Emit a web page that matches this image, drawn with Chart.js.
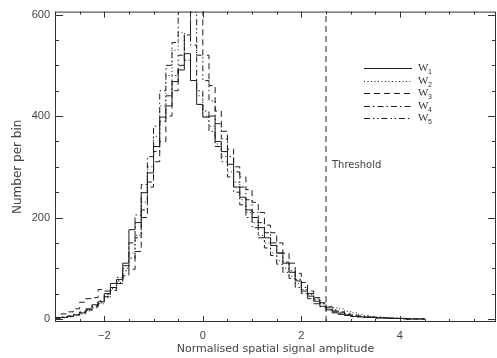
<!DOCTYPE html>
<html>
<head>
<meta charset="utf-8">
<script src="https://cdn.jsdelivr.net/npm/chart.js@4.4.0/dist/chart.umd.min.js"></script>
<style>
  body { margin: 0; background: #fff; }
</style>
</head>
<body>
<canvas id="histChart" width="497" height="358"></canvas>
<script>
// histogram bins: left edge of the first bin and the bin width
const binStart = -3.0;
const binWidth = 0.125;

const seriesIds = ['1', '2', '3', '4', '5'];

const w1 = [1, 2, 3, 5, 8, 12, 18, 28, 34, 50, 70, 78, 110, 176, 190, 249, 288, 340, 398, 420,
            468, 491, 523, 470, 423, 398, 400, 350, 330, 305, 260, 240, 215, 200, 180, 160, 145, 130, 110, 92,
            75, 55, 45, 35, 25, 18, 12, 9, 7, 5, 4, 3, 3, 2, 2, 1, 1, 1, 0, 0];
const w2 = [0, 1, 3, 4, 7, 10, 16, 22, 30, 42, 60, 72, 100, 130, 165, 230, 300, 360, 420, 480,
            530, 565, 510, 470, 440, 400, 380, 345, 320, 290, 270, 235, 210, 190, 165, 150, 130, 115, 100, 85,
            70, 58, 48, 40, 30, 25, 22, 20, 15, 12, 9, 7, 5, 4, 3, 2, 2, 1, 1, 0];
const w3 = [1, 3, 10, 14, 20, 33, 40, 42, 58, 55, 62, 70, 85, 98, 133, 200, 260, 310, 350, 400,
            450, 500, 560, 620, 640, 520, 460, 410, 370, 335, 300, 280, 255, 230, 210, 185, 170, 150, 130, 110,
            90, 72, 55, 42, 32, 22, 16, 12, 9, 7, 5, 4, 3, 2, 2, 1, 1, 0, 0, 0];
const w4 = [0, 2, 4, 6, 9, 14, 20, 26, 36, 48, 62, 82, 105, 150, 205, 265, 320, 380, 450, 500,
            545, 610, 625, 540, 450, 410, 370, 340, 310, 280, 250, 225, 200, 180, 160, 140, 125, 108, 92, 80,
            62, 50, 40, 30, 24, 18, 14, 10, 8, 6, 5, 4, 3, 2, 2, 1, 1, 1, 0, 0];
const w5 = [1, 2, 3, 5, 8, 12, 17, 24, 32, 44, 56, 75, 95, 120, 160, 215, 270, 330, 390, 440,
            480, 520, 560, 605, 520, 470, 430, 385, 355, 320, 290, 260, 235, 210, 190, 170, 150, 130, 112, 95,
            78, 62, 50, 38, 30, 24, 18, 14, 11, 8, 6, 5, 4, 3, 2, 2, 1, 1, 0, 0];

const thresholdX = 2.5;
const xTickValues = [-2, 0, 2, 4];
const yTickValues = [0, 200, 400, 600];
const xMinorStep = 0.5;
const yMinorStep = 50;

const ink = '#1e1e1e';
const textColor = '#444';
const dashes = [[], [1, 2.5], [6, 4], [6, 3, 1.5, 3], [6, 3, 1.5, 2.5, 1.5, 3]];

function toSteps(vals) {
  const pts = vals.map((v, i) => ({ x: binStart + i * binWidth, y: v }));
  pts.push({ x: binStart + vals.length * binWidth, y: vals[vals.length - 1] });
  return pts;
}

const datasets = [w1, w2, w3, w4, w5].map((vals, i) => ({
  label: 'W' + seriesIds[i],
  data: toSteps(vals),
  stepped: 'after',
  borderColor: ink,
  borderWidth: 1,
  borderDash: dashes[i],
  pointRadius: 0,
  fill: false
}));

datasets.push({
  label: 'Threshold',
  data: [{ x: thresholdX, y: -6 }, { x: thresholdX, y: 606 }],
  borderColor: ink,
  borderWidth: 1,
  borderDash: [6, 4],
  pointRadius: 0,
  fill: false
});

// IDL-like frame with inward ticks, legend and threshold label
const framePlugin = {
  id: 'frame',
  afterDatasetsDraw(chart) {
    const { ctx, chartArea: a, scales: { x, y } } = chart;
    ctx.save();
    ctx.strokeStyle = '#333';
    ctx.lineWidth = 1;
    ctx.setLineDash([]);
    ctx.strokeRect(a.left + 0.5, a.top + 0.5, a.right - a.left - 1, a.bottom - a.top - 1);

    ctx.beginPath();
    for (let v = Math.ceil(x.min / xMinorStep) * xMinorStep; v <= x.max; v += xMinorStep) {
      const px = Math.round(x.getPixelForValue(v)) + 0.5;
      const len = xTickValues.includes(v) ? 6 : 3;
      ctx.moveTo(px, a.bottom); ctx.lineTo(px, a.bottom - len);
      ctx.moveTo(px, a.top); ctx.lineTo(px, a.top + len);
    }
    for (let v = 0; v <= y.max; v += yMinorStep) {
      const py = Math.round(y.getPixelForValue(v)) + 0.5;
      const len = yTickValues.includes(v) ? 8 : 4;
      ctx.moveTo(a.left, py); ctx.lineTo(a.left + len, py);
      ctx.moveTo(a.right, py); ctx.lineTo(a.right - len, py);
    }
    ctx.stroke();

    // threshold label
    ctx.fillStyle = textColor;
    ctx.font = '10px "DejaVu Sans", sans-serif';
    ctx.textBaseline = 'middle';
    ctx.fillText('Threshold', x.getPixelForValue(thresholdX) + 6, y.getPixelForValue(303));

    // legend
    const lx0 = 364, lx1 = 412, ly0 = 68, dy = 12.5;
    seriesIds.forEach((id, i) => {
      const ly = Math.round(ly0 + i * dy) + 0.5;
      ctx.strokeStyle = ink;
      ctx.setLineDash(dashes[i]);
      ctx.beginPath();
      ctx.moveTo(lx0, ly); ctx.lineTo(lx1, ly);
      ctx.stroke();
      ctx.fillStyle = '#333';
      ctx.font = '11px "Liberation Serif", serif';
      ctx.fillText('W', 418, ly);
      ctx.font = '7px "Liberation Sans", sans-serif';
      ctx.fillText(id, 428, ly + 4);
    });
    ctx.restore();
  }
};

const tickFont = { family: '"Liberation Sans", Arial, sans-serif', size: 11 };

new Chart(document.getElementById('histChart').getContext('2d'), {
  type: 'line',
  data: { datasets: datasets },
  options: {
    responsive: false,
    animation: false,
    devicePixelRatio: 1,
    layout: { padding: { top: 6, right: 1, left: 0, bottom: 0 } },
    plugins: { legend: { display: false }, tooltip: { enabled: false } },
    scales: {
      x: {
        type: 'linear',
        min: -3,
        max: 5.95,
        grid: { display: false, drawTicks: false },
        border: { display: false },
        afterBuildTicks: s => { s.ticks = xTickValues.map(v => ({ value: v })); },
        afterFit: s => { s.height = 36; },
        ticks: {
          font: tickFont, color: textColor, padding: 7, maxRotation: 0, autoSkip: false,
          callback: v => (v < 0 ? '\u2212' + Math.abs(v) : String(v))
        },
        title: {
          display: true, text: 'Normalised spatial signal amplitude',
          font: { family: '"DejaVu Sans", sans-serif', size: 11 }, color: textColor,
          padding: { top: 0, bottom: 2 }
        }
      },
      y: {
        min: -6,
        max: 606,
        grid: { display: false, drawTicks: false },
        border: { display: false },
        afterBuildTicks: s => { s.ticks = yTickValues.map(v => ({ value: v })); },
        afterFit: s => { s.width = 55; },
        ticks: { font: tickFont, color: textColor, padding: 5, autoSkip: false },
        title: {
          display: true, text: 'Number per bin',
          font: { family: '"DejaVu Sans", sans-serif', size: 12 }, color: textColor,
          padding: { top: 11, bottom: 0 }
        }
      }
    }
  },
  plugins: [framePlugin]
});
</script>
</body>
</html>
